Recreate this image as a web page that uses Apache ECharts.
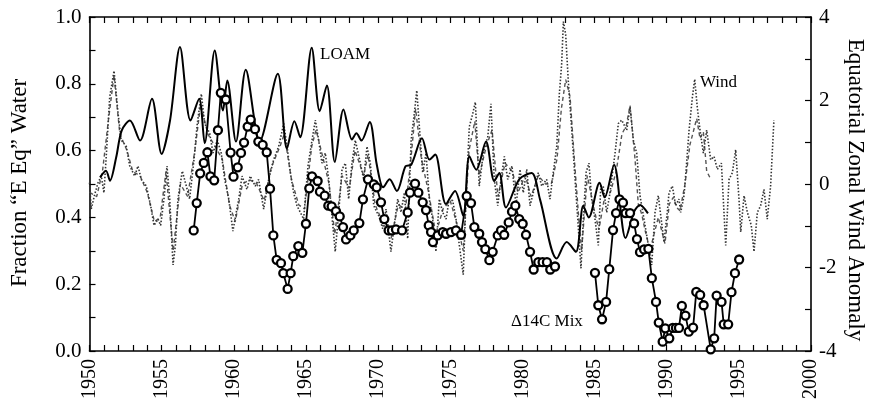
<!DOCTYPE html>
<html>
<head>
<meta charset="utf-8">
<script src="https://cdn.jsdelivr.net/npm/echarts@6/dist/echarts.min.js"></script>
<style>
  html, body { margin: 0; padding: 0; background: #fff; }
  #chart { width: 873px; height: 402px; }
</style>
</head>
<body>
<div id="chart"></div>
<script>
// Year axis and tick settings
const yearRange = [1950, 2000];
const fractionRange = [0, 1];
const windRange = [-4, 4];

// LOAM model fraction of "E Eq" water (left axis)
const loam = [
  [1950.73,0.52],[1951.14,0.54],[1951.42,0.51],[1951.85,0.58],[1952.23,0.66],[1952.8,0.69],
  [1953.5,0.63],[1954.33,0.755],[1955.0,0.59],[1955.58,0.69],[1956.27,0.91],[1957.0,0.69],
  [1957.6,0.755],[1957.98,0.622],[1958.68,0.90],[1959.25,0.72],[1959.55,0.81],[1960.15,0.627],
  [1960.83,0.842],[1961.8,0.628],[1963.05,0.83],[1963.68,0.606],[1964.2,0.688],[1964.6,0.64],
  [1965.4,0.908],[1965.95,0.718],[1966.45,0.795],[1967.0,0.566],[1967.6,0.723],[1968.19,0.633],
  [1968.5,0.652],[1968.85,0.63],[1969.42,0.686],[1969.9,0.56],[1970.35,0.49],[1970.8,0.514],
  [1971.3,0.479],[1971.9,0.553],[1972.3,0.558],[1973.04,0.637],[1973.55,0.573],[1973.96,0.588],
  [1974.7,0.44],[1975.33,0.479],[1975.9,0.405],[1976.32,0.583],[1976.8,0.543],[1977.48,0.627],
  [1978.05,0.509],[1978.4,0.533],[1978.86,0.43],[1979.78,0.514],[1980.64,0.533],[1981.22,0.454],
  [1982.38,0.277],[1983.07,0.326],[1983.71,0.297],[1984.22,0.435],[1984.6,0.40],[1985.35,0.504],
  [1985.7,0.46],[1986.35,0.558],[1987.15,0.338],[1987.75,0.418],[1988.15,0.437],[1988.7,0.412]
];

// Δ14C mixing estimate (left axis), two sampled stretches
const mixEarly = [
  [1957.22,0.361],[1957.43,0.443],[1957.67,0.532],[1957.92,0.563],[1958.17,0.595],[1958.38,0.523],
  [1958.64,0.511],[1958.9,0.661],[1959.1,0.773],[1959.45,0.753],[1959.78,0.594],[1959.98,0.522],
  [1960.27,0.55],[1960.5,0.593],[1960.71,0.624],[1960.96,0.672],[1961.17,0.693],[1961.47,0.664],
  [1961.7,0.627],[1962.0,0.617],[1962.28,0.595],[1962.51,0.486],[1962.74,0.346],[1962.97,0.273],
  [1963.27,0.263],[1963.43,0.233],[1963.73,0.186],[1963.94,0.233],[1964.12,0.284],[1964.47,0.314],
  [1964.75,0.294],[1965.0,0.381],[1965.23,0.487],[1965.42,0.523],[1965.81,0.509],[1965.97,0.477],
  [1966.3,0.465],[1966.55,0.435],[1966.78,0.433],[1967.08,0.419],[1967.34,0.403],[1967.57,0.371],
  [1967.78,0.334],[1968.08,0.346],[1968.31,0.361],[1968.7,0.383],[1968.95,0.454],[1969.3,0.514],
  [1969.7,0.499],[1969.9,0.49],[1970.2,0.445],[1970.43,0.395],[1970.73,0.361],[1970.96,0.361],
  [1971.24,0.364],[1971.66,0.361],[1972.05,0.415],[1972.21,0.474],[1972.56,0.501],[1972.79,0.474],
  [1973.09,0.445],[1973.32,0.422],[1973.51,0.376],[1973.67,0.356],[1973.8,0.326],[1974.13,0.346],
  [1974.48,0.356],[1974.71,0.351],[1975.05,0.356],[1975.4,0.361],[1975.75,0.348],[1976.14,0.464],
  [1976.44,0.443],[1976.67,0.371],[1977.01,0.351],[1977.2,0.326],[1977.43,0.305],[1977.71,0.272],
  [1977.94,0.297],[1978.29,0.346],[1978.52,0.361],[1978.74,0.348],[1979.05,0.385],[1979.28,0.417],
  [1979.51,0.435],[1979.78,0.395],[1980.02,0.381],[1980.25,0.348],[1980.53,0.297],[1980.78,0.244],
  [1981.1,0.266],[1981.4,0.266],[1981.7,0.266],[1981.93,0.244],[1982.26,0.253]
];
const mixLate = [
  [1985.03,0.234],[1985.26,0.137],[1985.52,0.095],[1985.8,0.147],[1986.02,0.245],[1986.28,0.362],
  [1986.49,0.413],[1986.73,0.454],[1986.97,0.444],[1987.15,0.413],[1987.46,0.413],[1987.74,0.382],
  [1987.94,0.335],[1988.15,0.296],[1988.43,0.304],[1988.73,0.306],[1988.97,0.218],[1989.26,0.147],
  [1989.45,0.085],[1989.72,0.028],[1989.9,0.068],[1990.18,0.038],[1990.42,0.069],[1990.64,0.069],
  [1990.85,0.069],[1991.05,0.135],[1991.3,0.106],[1991.53,0.058],[1991.83,0.07],[1992.05,0.177],
  [1992.32,0.168],[1992.56,0.137],[1993.05,0.005],[1993.29,0.038],[1993.46,0.166],[1993.8,0.147],
  [1993.95,0.08],[1994.26,0.08],[1994.49,0.176],[1994.73,0.233],[1995.02,0.274]
];

// Equatorial zonal wind anomaly (right axis), dotted record
const windDotted = [
  [1950.0,0.03],[1950.12,-0.6],[1950.36,-0.25],[1950.59,0.03],[1950.82,0.19],[1951.0,-0.21],
  [1951.16,0.66],[1951.4,2.08],[1951.7,2.71],[1951.98,1.69],[1952.2,1.05],[1952.55,0.9],
  [1952.79,0.43],[1953.13,0.19],[1953.36,0.43],[1953.59,0.11],[1953.94,-0.05],[1954.24,-0.52],
  [1954.47,-0.99],[1954.75,-0.84],[1954.93,-0.99],[1955.16,-0.36],[1955.37,0.43],[1955.56,-0.36],
  [1955.79,-1.94],[1955.95,-1.47],[1956.13,-0.36],[1956.43,0.31],[1956.71,-0.05],[1956.94,-0.36],
  [1957.24,0.58],[1957.47,1.45],[1957.75,2.16],[1957.98,1.45],[1958.33,1.21],[1958.56,0.74],
  [1958.86,1.05],[1959.13,0.74],[1959.37,0.11],[1959.65,-0.36],[1959.94,-1.13],[1960.34,-0.36],
  [1960.57,0.19],[1960.91,-0.13],[1961.14,0.19],[1961.49,-0.05],[1961.72,0.11],[1962.07,-0.6],
  [1962.42,0.11],[1962.76,0.58],[1963.11,0.9],[1963.46,1.45],[1963.69,0.9],[1963.92,0.27],
  [1964.15,-0.21],[1964.38,-0.52],[1964.61,-0.68],[1964.84,-0.84],[1965.14,0.43],[1965.42,1.05],
  [1965.65,1.53],[1965.88,1.05],[1966.11,0.5],[1966.34,0.74],[1966.58,0.11],[1966.8,-0.76],
  [1967.03,-1.62],[1967.27,-0.68],[1967.5,0.35],[1967.73,0.5],[1967.96,-0.36],[1968.19,0.5],
  [1968.42,1.05],[1968.77,0.5],[1969.0,0.11],[1969.23,0.9],[1969.46,0.5],[1969.7,-0.52],
  [1970.04,-0.76],[1970.32,-1.07],[1970.55,-0.6],[1970.89,-1.62],[1971.12,-0.99],[1971.36,-0.36],
  [1971.59,-0.68],[1971.82,-0.21],[1972.05,-1.31],[1972.29,1.05],[1972.51,1.69],[1972.68,2.24],
  [1972.86,1.37],[1973.09,0.27],[1973.32,0.74],[1973.55,-0.36],[1973.78,-0.84],[1974.01,-1.62],
  [1974.24,-0.36],[1974.48,-0.68],[1974.71,-0.84],[1974.93,-0.36],[1975.17,-0.4],[1975.4,-0.84],
  [1975.63,-1.47],[1975.9,-2.17],[1976.09,-0.36],[1976.32,1.37],[1976.56,1.69],[1976.74,1.96],
  [1977.01,-0.05],[1977.29,0.74],[1977.6,1.13],[1977.82,1.92],[1978.05,0.11],[1978.29,-0.52],
  [1978.52,0.11],[1978.75,0.66],[1978.98,0.11],[1979.28,0.43],[1979.56,-0.52],[1979.83,0.35],
  [1980.06,-0.21],[1980.3,0.35],[1980.53,-0.52],[1980.87,-0.05],[1981.1,0.27],[1981.34,-0.05],
  [1981.68,0.11],[1981.91,-0.36],[1982.14,0.27],[1982.38,0.9],[1982.56,2.16],[1982.72,2.87],
  [1982.84,3.89],[1983.0,3.58],[1983.18,2.47],[1983.42,1.29],[1983.65,0.11],[1983.88,-1.07],
  [1984.06,-2.02],[1984.22,-0.84],[1984.41,0.27],[1984.61,0.5],[1984.8,-0.36],[1985.03,-0.84],
  [1985.26,-1.47],[1985.43,-0.05],[1985.6,-0.05],[1985.84,-0.68],[1986.07,-0.21],[1986.42,0.74],
  [1986.65,1.45],[1986.88,1.53],[1987.23,1.29],[1987.46,1.84],[1987.69,1.05],[1987.92,0.74],
  [1988.15,-0.28],[1988.5,-0.99],[1988.73,-1.47],[1988.96,-1.94],[1989.19,-0.68],[1989.42,-0.28],
  [1989.81,-1.39],[1990.04,-0.68],[1990.16,-0.21],[1990.39,-0.05],[1990.62,-0.52],[1990.85,-0.36],
  [1990.97,-0.68],[1991.2,-0.28],[1991.38,0.5],[1991.55,1.29],[1991.78,2.08],[1991.94,2.51],
  [1992.12,1.84],[1992.31,1.29],[1992.54,0.74],[1992.77,1.29],[1993.05,0.58],[1993.28,0.66],
  [1993.51,0.35],[1993.79,0.5],[1994.09,-1.47],[1994.32,0.11],[1994.55,0.27],[1994.78,0.82],
  [1995.01,-0.36],[1995.13,-1.15],[1995.36,-0.28],[1995.59,-0.68],[1995.86,-0.99],[1996.05,-1.62],
  [1996.28,-0.68],[1996.51,-0.52],[1996.74,-0.13],[1996.97,-0.84],[1997.2,-0.05],[1997.43,1.53]
];

// Equatorial zonal wind anomaly (right axis), dashed record
const windDashed = [
  [1950.0,-0.2],[1950.5,-0.3],[1950.9,0.3],[1951.3,1.5],[1951.7,2.6],[1952.1,1.2],[1952.6,0.8],
  [1953.0,0.3],[1953.5,0.2],[1954.0,-0.2],[1954.5,-0.9],[1954.9,-0.8],[1955.3,0.3],[1955.8,-1.6],
  [1956.3,0.0],[1956.8,-0.3],[1957.3,0.8],[1957.7,1.9],[1958.2,1.2],[1958.7,0.9],[1959.2,0.6],
  [1959.7,-0.5],[1960.1,-0.9],[1960.6,0.0],[1961.1,0.1],[1961.6,0.0],[1962.1,-0.4],[1962.6,0.4],
  [1963.2,0.9],[1963.5,1.2],[1964.0,0.1],[1964.5,-0.5],[1964.9,-0.6],[1965.4,0.9],[1965.7,1.3],
  [1966.2,0.6],[1966.6,0.0],[1967.0,-1.2],[1967.5,0.2],[1968.0,-0.1],[1968.4,0.8],[1969.0,0.2],
  [1969.3,0.7],[1969.8,-0.5],[1970.3,-0.9],[1970.9,-1.3],[1971.4,-0.5],[1971.9,-0.6],[1972.3,0.7],
  [1972.6,1.8],[1973.0,0.6],[1973.5,-0.2],[1974.0,-1.2],[1974.5,-0.6],[1975.0,-0.4],[1975.5,-1.0],
  [1975.9,-1.6],[1976.3,0.8],[1976.7,1.5],[1977.0,0.2],[1977.5,0.9],[1977.9,1.3],[1978.3,-0.3],
  [1978.8,0.5],[1979.3,0.3],[1979.7,-0.2],[1980.2,0.2],[1980.6,-0.3],[1981.1,0.2],[1981.6,0.0],
  [1982.0,0.0],[1982.4,0.6],[1982.7,1.8],[1983.0,2.5],[1983.3,2.1],[1983.6,0.6],[1983.9,-0.8],
  [1984.1,-1.6],[1984.5,0.2],[1984.9,-0.5],[1985.3,-1.1],[1985.7,-0.3],[1986.1,-0.2],[1986.5,0.3],
  [1986.9,1.2],[1987.2,1.4],[1987.46,1.88],[1987.8,0.62],[1988.03,-0.48],[1988.27,-0.72],
  [1988.5,-1.11],[1988.85,-1.58],[1989.19,-1.11],[1989.42,-0.8],[1989.88,-1.43],[1990.18,-0.48],
  [1990.46,-0.32],[1990.69,-0.56],[1990.92,-0.64],[1991.27,0.0],[1991.61,0.94],[1992.08,1.57],
  [1992.31,1.09],[1992.54,1.25],[1992.77,0.31],[1993.0,0.15]
];

const serif = '"Liberation Serif", "Times New Roman", serif';
const ink = '#000';

const chart = echarts.init(document.getElementById('chart'), null, { renderer: 'canvas' });

const lineCommon = { show: true, onZero: false, lineStyle: { color: ink, width: 1.6 } };
const tickCommon = { show: true, inside: true, length: 6, lineStyle: { color: ink, width: 1.2 } };
const minorCommon = { show: true, length: 6, lineStyle: { color: ink, width: 1.2 } };

chart.setOption({
  animation: false,
  backgroundColor: '#fff',
  grid: { left: 89.5, right: 62, top: 17, bottom: 46.5, containLabel: false },
  xAxis: [
    {
      type: 'value', position: 'bottom', min: yearRange[0], max: yearRange[1], interval: 5,
      axisLine: lineCommon,
      axisTick: tickCommon,
      minorTick: Object.assign({ splitNumber: 5 }, minorCommon),
      splitLine: { show: false },
      axisLabel: { rotate: 90, margin: 8, color: ink, fontFamily: serif, fontSize: 20,
                   formatter: v => String(v) }
    },
    {
      type: 'value', position: 'top', min: yearRange[0], max: yearRange[1], interval: 5,
      axisLine: lineCommon,
      axisTick: tickCommon,
      minorTick: Object.assign({ splitNumber: 5 }, minorCommon),
      splitLine: { show: false },
      axisLabel: { show: false }
    }
  ],
  yAxis: [
    {
      type: 'value', position: 'left', min: fractionRange[0], max: fractionRange[1], interval: 0.2,
      axisLine: lineCommon,
      axisTick: tickCommon,
      minorTick: Object.assign({ splitNumber: 2 }, minorCommon),
      splitLine: { show: false },
      axisLabel: { margin: 8, color: ink, fontFamily: serif, fontSize: 21,
                   formatter: v => v.toFixed(1) }
    },
    {
      type: 'value', position: 'right', min: windRange[0], max: windRange[1], interval: 2,
      axisLine: lineCommon,
      axisTick: tickCommon,
      minorTick: Object.assign({ splitNumber: 2 }, minorCommon),
      splitLine: { show: false },
      axisLabel: { margin: 8, color: ink, fontFamily: serif, fontSize: 21 }
    }
  ],
  graphic: [
    { type: 'text', x: 20, y: 183, rotation: Math.PI / 2,
      style: { text: 'Fraction \u201CE Eq\u201D Water', font: '23px ' + serif, fill: ink,
               align: 'center', verticalAlign: 'middle' } },
    { type: 'text', x: 855, y: 190, rotation: -Math.PI / 2,
      style: { text: 'Equatorial Zonal Wind Anomaly', font: '23px ' + serif, fill: ink,
               align: 'center', verticalAlign: 'middle' } },
    { type: 'text', x: 320, y: 55, z: 100,
      style: { text: 'LOAM', font: '17px ' + serif, fill: ink, align: 'left', verticalAlign: 'middle' } },
    { type: 'text', x: 700, y: 83, z: 100,
      style: { text: 'Wind', font: '17px ' + serif, fill: ink, align: 'left', verticalAlign: 'middle' } },
    { type: 'text', x: 511, y: 322, z: 100,
      style: { text: '\u039414C Mix', font: '17px ' + serif, fill: ink, align: 'left', verticalAlign: 'middle' } }
  ],
  series: [
    {
      name: 'Wind', type: 'line', xAxisIndex: 0, yAxisIndex: 1, data: windDashed,
      showSymbol: false, symbol: 'none',
      lineStyle: { color: '#555', width: 1.4, type: [4, 3] }, z: 1
    },
    {
      name: 'Wind', type: 'line', xAxisIndex: 0, yAxisIndex: 1, data: windDotted,
      showSymbol: false, symbol: 'none',
      lineStyle: { color: '#333', width: 1.6, type: [1.5, 1.8] }, z: 2
    },
    {
      name: 'LOAM', type: 'line', xAxisIndex: 0, yAxisIndex: 0, data: loam,
      showSymbol: false, symbol: 'none', smooth: 0.3,
      lineStyle: { color: ink, width: 2 }, z: 3
    },
    {
      name: '\u039414C Mix', type: 'line', xAxisIndex: 0, yAxisIndex: 0, data: mixEarly,
      symbol: 'circle', symbolSize: 8, showSymbol: true,
      itemStyle: { color: '#fff', borderColor: ink, borderWidth: 2.3 },
      lineStyle: { color: ink, width: 1.8 }, z: 4
    },
    {
      name: '\u039414C Mix', type: 'line', xAxisIndex: 0, yAxisIndex: 0, data: mixLate,
      symbol: 'circle', symbolSize: 8, showSymbol: true,
      itemStyle: { color: '#fff', borderColor: ink, borderWidth: 2.3 },
      lineStyle: { color: ink, width: 1.8 }, z: 4
    }
  ]
});
</script>
</body>
</html>
